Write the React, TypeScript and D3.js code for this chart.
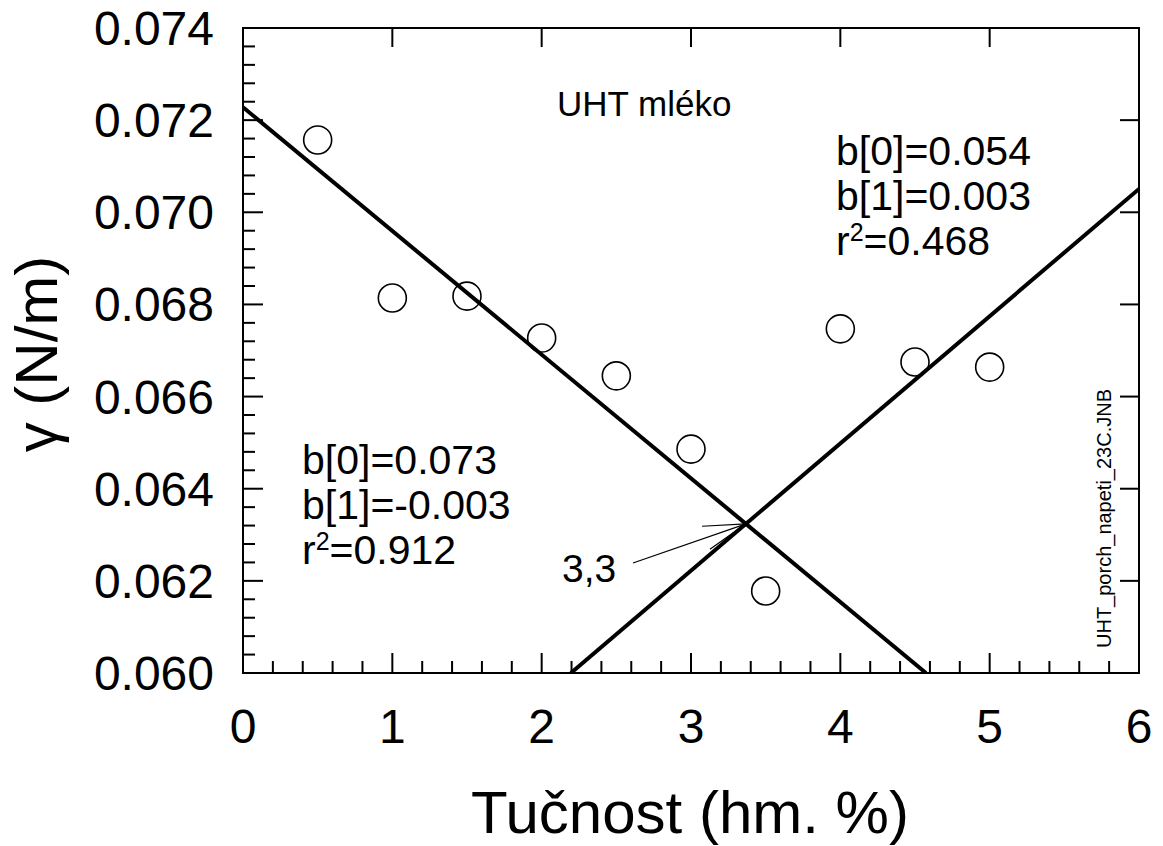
import React from "react";
import * as d3 from "d3";

const fatX = [0.5, 1, 1.5, 2, 2.5, 3, 3.5, 4, 4.5, 5];
const gammaY = [0.07157, 0.06814, 0.06818, 0.06727, 0.06645, 0.06486, 0.06178, 0.06747, 0.06675, 0.06664];
const fitLeft = { b0: 0.07228, b1: -0.002685 };
const fitRight = { b0: 0.053935, b1: 0.002762 };
const xTicks = [0, 1, 2, 3, 4, 5, 6];
const yTicks = [0.06, 0.062, 0.064, 0.066, 0.068, 0.07, 0.072, 0.074];
const leftStats = ["b[0]=0.073", "b[1]=-0.003", "0.912"];
const rightStats = ["b[0]=0.054", "b[1]=0.003", "0.468"];

const FONT = "'Liberation Sans', Arial, sans-serif";

export default function App() {
  const W = 1163, H = 846;
  const x0 = 243, x1 = 1139, y0 = 28, y1 = 673;
  const x = d3.scaleLinear().domain([0, 6]).range([x0, x1]);
  const y = d3.scaleLinear().domain([0.06, 0.074]).range([y1, y0]);

  const xMinor = d3.range(0, 6.0001, 0.2).map((v) => +v.toFixed(2));
  const yMinor = d3.range(0.06, 0.07401, 0.0004).map((v) => +v.toFixed(5));

  const clipLine = (f: { b0: number; b1: number }) => {
    let xa = 0, xb = 6;
    const xs = [(0.06 - f.b0) / f.b1, (0.074 - f.b0) / f.b1].sort((a, b) => a - b);
    xa = Math.max(xa, xs[0]);
    xb = Math.min(xb, xs[1]);
    const line = d3.line<number>().x((d) => x(d)).y((d) => y(f.b0 + f.b1 * d));
    return line([xa, xb]) || "";
  };

  const xi = (fitRight.b0 - fitLeft.b0) / (fitLeft.b1 - fitRight.b1);
  const yi = fitLeft.b0 + fitLeft.b1 * xi;
  const tipX = x(xi), tipY = y(yi);
  const tailX = 633, tailY = 563;
  const ang = Math.atan2(tipY - tailY, tipX - tailX);
  const barbLen = 44, barbA = (16 * Math.PI) / 180;
  const barb = (s: number) => [
    tipX - barbLen * Math.cos(ang + s * barbA),
    tipY - barbLen * Math.sin(ang + s * barbA),
  ];
  const b1 = barb(1), b2 = barb(-1);

  const statBlock = (lines: string[], tx: number, by: number, gap: number) => (
    <g fontFamily={FONT} fontSize={41} fill="#000">
      <text x={tx} y={by}>{lines[0]}</text>
      <text x={tx} y={by + gap}>{lines[1]}</text>
      <text x={tx} y={by + 2 * gap}>
        r<tspan fontSize={25} dy={-14}>2</tspan>
        <tspan dy={14}>={lines[2]}</tspan>
      </text>
    </g>
  );

  return (
    <svg width={W} height={H} style={{ position: "absolute", left: 0, top: 0, background: "#fff" }}>
      <defs>
        <clipPath id="plotClip">
          <rect x={x0} y={y0} width={x1 - x0} height={y1 - y0} />
        </clipPath>
      </defs>
      <rect x={x0} y={y0} width={x1 - x0} height={y1 - y0} fill="none" stroke="#000" strokeWidth={2} />
      {xMinor.map((v, i) => {
        const major = Math.abs(v - Math.round(v)) < 1e-6;
        return <line key={"xb" + i} x1={x(v)} x2={x(v)} y1={y1} y2={y1 - (major ? 20 : 12)} stroke="#000" strokeWidth={2} />;
      })}
      {xTicks.map((v, i) => (
        <line key={"xt" + i} x1={x(v)} x2={x(v)} y1={y0} y2={y0 + 19} stroke="#000" strokeWidth={2} />
      ))}
      {yMinor.map((v, i) => {
        const major = i % 5 === 0;
        return <line key={"yl" + i} x1={x0} x2={x0 + (major ? 20 : 12)} y1={y(v)} y2={y(v)} stroke="#000" strokeWidth={2} />;
      })}
      {yTicks.map((v, i) => (
        <line key={"yr" + i} x1={x1} x2={x1 - 19} y1={y(v)} y2={y(v)} stroke="#000" strokeWidth={2} />
      ))}
      <g fontFamily={FONT} fontSize={48} fill="#000">
        {yTicks.map((v, i) => (
          <text key={"ylab" + i} x={214} y={y(v) + 17} textAnchor="end">{d3.format(".3f")(v)}</text>
        ))}
        {xTicks.map((v, i) => (
          <text key={"xlab" + i} x={x(v)} y={743} textAnchor="middle">{v}</text>
        ))}
      </g>
      <text x={690} y={833} textAnchor="middle" fontFamily={FONT} fontSize={60}>Tučnost (hm. %)</text>
      <text transform={`translate(57,354) rotate(-90)`} textAnchor="middle" fontFamily={FONT} fontSize={60}>γ (N/m)</text>
      <g clipPath="url(#plotClip)">
        <path d={clipLine(fitLeft)} stroke="#000" strokeWidth={4} fill="none" />
        <path d={clipLine(fitRight)} stroke="#000" strokeWidth={4} fill="none" />
      </g>
      {fatX.map((v, i) => (
        <circle key={"p" + i} cx={x(v)} cy={y(gammaY[i])} r={14} fill="none" stroke="#000" strokeWidth={1.6} />
      ))}
      <text x={557} y={116} fontFamily={FONT} fontSize={35}>UHT mléko</text>
      {statBlock(rightStats, 836, 165, 45)}
      {statBlock(leftStats, 302, 474, 45)}
      <text x={562} y={582} fontFamily={FONT} fontSize={39}>3,3</text>
      <line x1={tailX} y1={tailY} x2={tipX} y2={tipY} stroke="#000" strokeWidth={1.2} />
      <line x1={b1[0]} y1={b1[1]} x2={tipX} y2={tipY} stroke="#000" strokeWidth={1.2} />
      <line x1={b2[0]} y1={b2[1]} x2={tipX} y2={tipY} stroke="#000" strokeWidth={1.2} />
      <text transform={`translate(1111,648) rotate(-90)`} fontFamily={FONT} fontSize={20}>UHT_porch_napeti_23C.JNB</text>
    </svg>
  );
}
